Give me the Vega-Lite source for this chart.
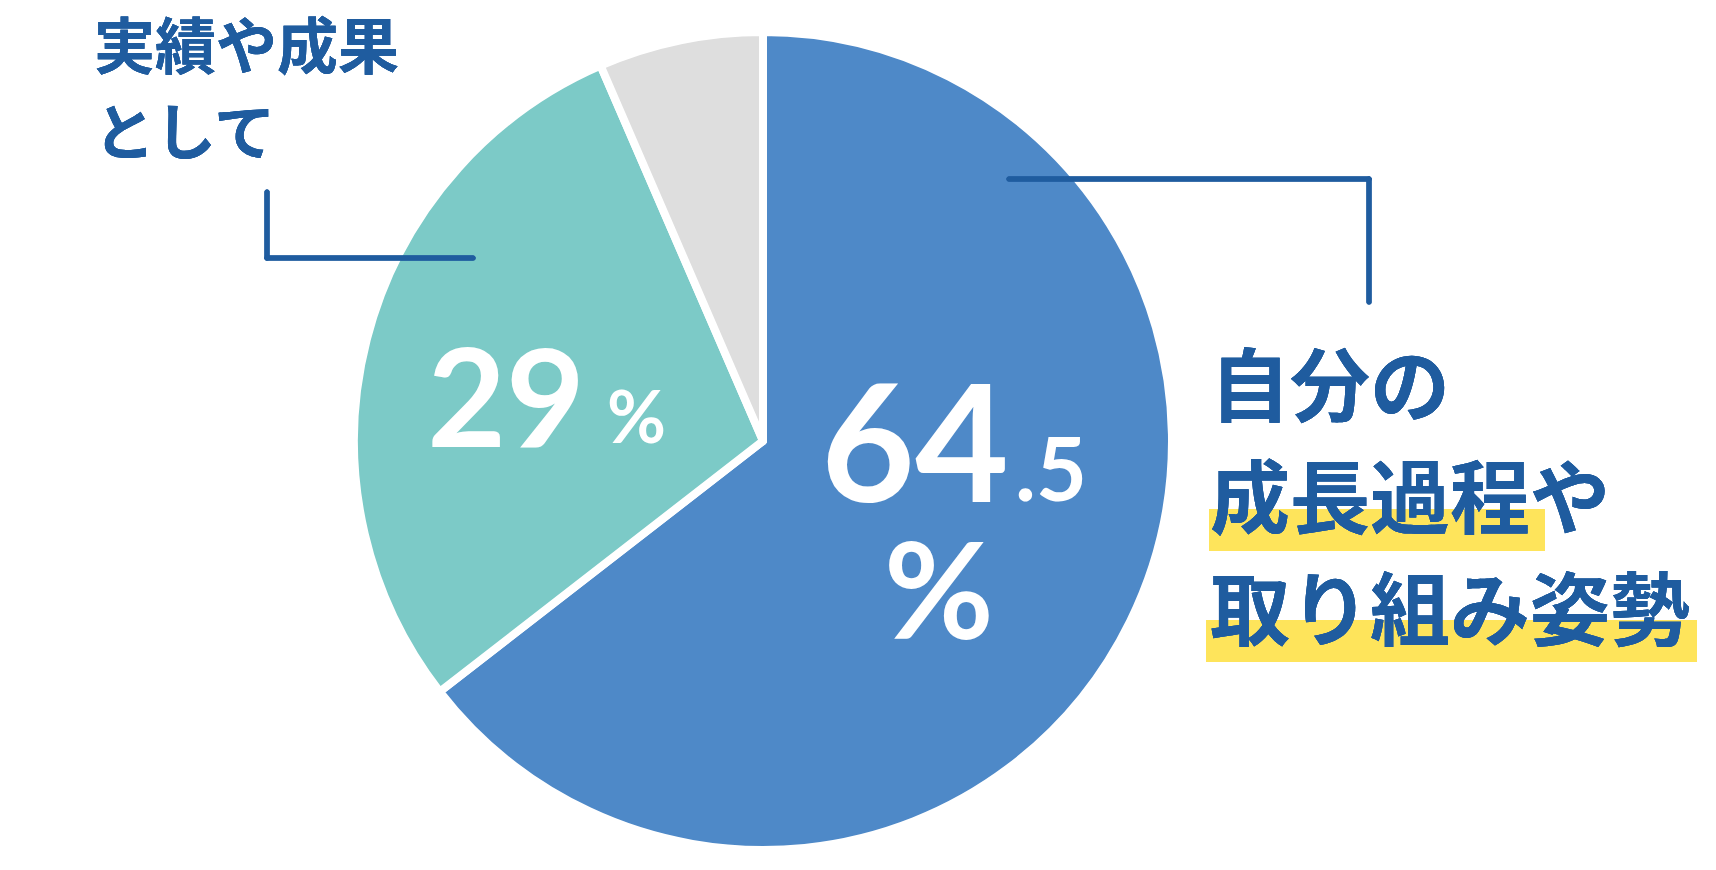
{
  "$schema": "https://vega.github.io/schema/vega-lite/v6.json",
  "width": 1716,
  "height": 870,
  "autosize": {"type": "none"},
  "padding": 0,
  "background": "#ffffff",
  "config": {"view": {"stroke": null}},
  "data": {
    "values": [
      {"category": "自分の成長過程や取り組み姿勢", "value": 64.5, "order": 1, "main": "64", "frac": ".5"},
      {"category": "実績や成果として", "value": 29, "order": 2, "main": "29", "frac": ""},
      {"category": "その他", "value": 6.5, "order": 3, "main": "", "frac": ""}
    ]
  },
  "layer": [
    {
      "mark": {"type": "arc", "outerRadius": 409, "stroke": "#ffffff", "strokeWidth": 8, "strokeJoin": "round"},
      "encoding": {
        "theta": {"field": "value", "type": "quantitative", "stack": true},
        "order": {"field": "order", "type": "quantitative"},
        "color": {"field": "category", "type": "nominal", "legend": null,
          "scale": {"domain": ["自分の成長過程や取り組み姿勢", "実績や成果として", "その他"], "range": ["#4E89C8", "#7CCAC7", "#DEDEDE"]}},
        "x": {"datum": 0, "type": "quantitative", "scale": {"domain": [-763, 953], "nice": false, "zero": false}, "axis": null},
        "y": {"datum": 0, "type": "quantitative", "scale": {"domain": [-429, 441], "nice": false, "zero": false}, "axis": null}
      }
    },
    {
      "transform": [{"filter": "datum.order == 2"}],
      "mark": {"type": "text", "font": "Lato", "fontWeight": "bold", "fontSize": 136, "fill": "#ffffff", "align": "center", "baseline": "alphabetic"},
      "encoding": {
        "text": {"field": "main", "type": "nominal"},
        "x": {"datum": -257, "type": "quantitative", "scale": {"domain": [-763, 953], "nice": false, "zero": false}, "axis": null},
        "y": {"datum": -6, "type": "quantitative", "scale": {"domain": [-429, 441], "nice": false, "zero": false}, "axis": null}
      }
    },
    {
      "transform": [{"filter": "datum.order == 2"}],
      "mark": {"type": "text", "font": "Lato", "fontWeight": "bold", "fontSize": 72, "fill": "#ffffff", "align": "left", "baseline": "alphabetic", "text": "%"},
      "encoding": {
        "x": {"datum": -156, "type": "quantitative", "scale": {"domain": [-763, 953], "nice": false, "zero": false}, "axis": null},
        "y": {"datum": -2, "type": "quantitative", "scale": {"domain": [-429, 441], "nice": false, "zero": false}, "axis": null}
      }
    },
    {
      "transform": [{"filter": "datum.order == 1"}],
      "mark": {"type": "text", "font": "Lato", "fontWeight": "bold", "fontSize": 162, "fill": "#ffffff", "align": "right", "baseline": "alphabetic"},
      "encoding": {
        "text": {"field": "main", "type": "nominal"},
        "x": {"datum": 246, "type": "quantitative", "scale": {"domain": [-763, 953], "nice": false, "zero": false}, "axis": null},
        "y": {"datum": -61, "type": "quantitative", "scale": {"domain": [-429, 441], "nice": false, "zero": false}, "axis": null}
      }
    },
    {
      "transform": [{"filter": "datum.order == 1"}],
      "mark": {"type": "text", "font": "Lato", "fontWeight": "bold", "fontSize": 88, "fill": "#ffffff", "align": "left", "baseline": "alphabetic"},
      "encoding": {
        "text": {"field": "frac", "type": "nominal"},
        "x": {"datum": 252, "type": "quantitative", "scale": {"domain": [-763, 953], "nice": false, "zero": false}, "axis": null},
        "y": {"datum": -60, "type": "quantitative", "scale": {"domain": [-429, 441], "nice": false, "zero": false}, "axis": null}
      }
    },
    {
      "transform": [{"filter": "datum.order == 1"}],
      "mark": {"type": "text", "font": "Lato", "fontWeight": "bold", "fontSize": 134, "fill": "#ffffff", "align": "center", "baseline": "alphabetic", "text": "%"},
      "encoding": {
        "x": {"datum": 176, "type": "quantitative", "scale": {"domain": [-763, 953], "nice": false, "zero": false}, "axis": null},
        "y": {"datum": -198, "type": "quantitative", "scale": {"domain": [-429, 441], "nice": false, "zero": false}, "axis": null}
      }
    },
    {
      "mark": {"type": "rule", "stroke": "#1F5C9F", "strokeWidth": 5, "strokeCap": "round"},
      "encoding": {
        "x": {"datum": -496, "type": "quantitative", "scale": {"domain": [-763, 953], "nice": false, "zero": false}, "axis": null},
        "y": {"datum": 249, "type": "quantitative", "scale": {"domain": [-429, 441], "nice": false, "zero": false}, "axis": null},
        "y2": {"datum": 183}
      }
    },
    {
      "mark": {"type": "rule", "stroke": "#1F5C9F", "strokeWidth": 5, "strokeCap": "round"},
      "encoding": {
        "x": {"datum": -496, "type": "quantitative", "scale": {"domain": [-763, 953], "nice": false, "zero": false}, "axis": null},
        "x2": {"datum": -290},
        "y": {"datum": 183, "type": "quantitative", "scale": {"domain": [-429, 441], "nice": false, "zero": false}, "axis": null}
      }
    },
    {
      "mark": {"type": "rule", "stroke": "#1F5C9F", "strokeWidth": 5, "strokeCap": "round"},
      "encoding": {
        "x": {"datum": 246, "type": "quantitative", "scale": {"domain": [-763, 953], "nice": false, "zero": false}, "axis": null},
        "x2": {"datum": 606},
        "y": {"datum": 262, "type": "quantitative", "scale": {"domain": [-429, 441], "nice": false, "zero": false}, "axis": null}
      }
    },
    {
      "mark": {"type": "rule", "stroke": "#1F5C9F", "strokeWidth": 5, "strokeCap": "round"},
      "encoding": {
        "x": {"datum": 606, "type": "quantitative", "scale": {"domain": [-763, 953], "nice": false, "zero": false}, "axis": null},
        "y": {"datum": 262, "type": "quantitative", "scale": {"domain": [-429, 441], "nice": false, "zero": false}, "axis": null},
        "y2": {"datum": 139}
      }
    },
    {
      "mark": {"type": "rect", "fill": "#FEE45B"},
      "encoding": {
        "x": {"datum": 446, "type": "quantitative", "scale": {"domain": [-763, 953], "nice": false, "zero": false}, "axis": null},
        "x2": {"datum": 782},
        "y": {"datum": -68, "type": "quantitative", "scale": {"domain": [-429, 441], "nice": false, "zero": false}, "axis": null},
        "y2": {"datum": -110}
      }
    },
    {
      "mark": {"type": "rect", "fill": "#FEE45B"},
      "encoding": {
        "x": {"datum": 443, "type": "quantitative", "scale": {"domain": [-763, 953], "nice": false, "zero": false}, "axis": null},
        "x2": {"datum": 934},
        "y": {"datum": -179, "type": "quantitative", "scale": {"domain": [-429, 441], "nice": false, "zero": false}, "axis": null},
        "y2": {"datum": -221}
      }
    },
    {
      "mark": {"type": "text", "font": "Noto Sans CJK JP", "fontWeight": "bold", "fontSize": 61, "fill": "#1F5C9F", "align": "left", "baseline": "alphabetic", "lineHeight": 86, "lineBreak": "\n", "text": "実績や成果\nとして"},
      "encoding": {
        "x": {"datum": -669, "type": "quantitative", "scale": {"domain": [-763, 953], "nice": false, "zero": false}, "axis": null},
        "y": {"datum": 372, "type": "quantitative", "scale": {"domain": [-429, 441], "nice": false, "zero": false}, "axis": null}
      }
    },
    {
      "mark": {"type": "text", "font": "Noto Sans CJK JP", "fontWeight": "bold", "fontSize": 80, "fill": "#1F5C9F", "align": "left", "baseline": "alphabetic", "lineHeight": 112, "lineBreak": "\n", "text": "自分の\n成長過程や\n取り組み姿勢"},
      "encoding": {
        "x": {"datum": 447, "type": "quantitative", "scale": {"domain": [-763, 953], "nice": false, "zero": false}, "axis": null},
        "y": {"datum": 26, "type": "quantitative", "scale": {"domain": [-429, 441], "nice": false, "zero": false}, "axis": null}
      }
    }
  ]
}
